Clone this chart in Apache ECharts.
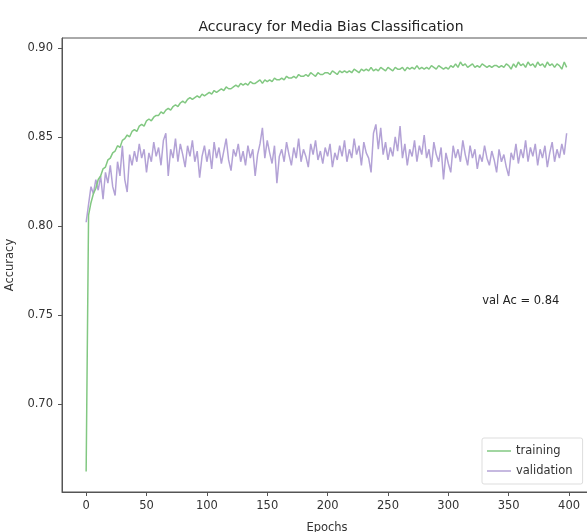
<!DOCTYPE html>
<html>
<head>
<meta charset="utf-8">
<script src="https://cdn.jsdelivr.net/npm/echarts@6/dist/echarts.min.js"></script>
<style>
  html, body { margin: 0; padding: 0; background: #fff; }
  #chart { width: 587px; height: 532px; }
</style>
</head>
<body>
<div id="chart"></div>
<script>
const trainAcc = [
  0.662, 0.806, 0.813, 0.818, 0.821, 0.826, 0.828, 0.832, 0.833, 0.837,
  0.838, 0.841, 0.842, 0.845, 0.844, 0.848, 0.849, 0.851, 0.850, 0.853,
  0.854, 0.853, 0.856, 0.857, 0.856, 0.859, 0.860, 0.859, 0.861, 0.862,
  0.862, 0.864, 0.863, 0.865, 0.866, 0.865, 0.867, 0.868, 0.867, 0.869,
  0.870, 0.869, 0.871, 0.872, 0.871, 0.872, 0.873, 0.872, 0.874, 0.873,
  0.874, 0.875, 0.874, 0.876, 0.875, 0.876, 0.877, 0.876, 0.878, 0.877,
  0.877, 0.878, 0.879, 0.878, 0.880, 0.879, 0.880, 0.879, 0.881, 0.880,
  0.880, 0.881, 0.882, 0.880, 0.882, 0.881, 0.882, 0.881, 0.883, 0.882,
  0.882, 0.883, 0.882, 0.884, 0.883, 0.883, 0.884, 0.883, 0.885, 0.884,
  0.884, 0.885, 0.884, 0.886, 0.885, 0.884, 0.886, 0.885, 0.885, 0.886,
  0.886, 0.885, 0.887, 0.886, 0.885, 0.887, 0.886, 0.887, 0.886, 0.887,
  0.886, 0.888, 0.887, 0.886, 0.888, 0.887, 0.888, 0.887, 0.889, 0.887,
  0.888, 0.887, 0.889, 0.888, 0.887, 0.889, 0.888, 0.887, 0.889, 0.888,
  0.888, 0.889, 0.887, 0.889, 0.888, 0.889, 0.888, 0.890, 0.888, 0.889,
  0.888, 0.889, 0.888, 0.890, 0.889, 0.888, 0.890, 0.889, 0.888, 0.889,
  0.888, 0.890, 0.889, 0.891, 0.889, 0.892, 0.890, 0.891, 0.889, 0.890,
  0.891, 0.889, 0.890, 0.889, 0.891, 0.890, 0.889, 0.890, 0.889, 0.890,
  0.890, 0.889, 0.890, 0.889, 0.891, 0.890, 0.888, 0.891, 0.889, 0.892,
  0.890, 0.891, 0.889, 0.892, 0.890, 0.891, 0.889, 0.892, 0.890, 0.891,
  0.889, 0.892, 0.890, 0.891, 0.889, 0.891, 0.890, 0.888, 0.892, 0.889
]
const valAcc = [
  0.802, 0.812, 0.822, 0.818, 0.826, 0.820, 0.828, 0.815, 0.830, 0.824,
  0.834, 0.822, 0.817, 0.836, 0.828, 0.845, 0.826, 0.819, 0.840, 0.834,
  0.842, 0.836, 0.846, 0.838, 0.843, 0.830, 0.841, 0.836, 0.847, 0.839,
  0.844, 0.834, 0.848, 0.852, 0.828, 0.843, 0.838, 0.849, 0.836, 0.846,
  0.840, 0.833, 0.845, 0.839, 0.848, 0.836, 0.842, 0.827, 0.839, 0.845,
  0.836, 0.843, 0.832, 0.847, 0.838, 0.844, 0.835, 0.842, 0.849, 0.837,
  0.831, 0.843, 0.839, 0.846, 0.836, 0.842, 0.834, 0.845, 0.838, 0.843,
  0.828, 0.840, 0.846, 0.855, 0.838, 0.848, 0.841, 0.835, 0.845, 0.824,
  0.839, 0.843, 0.836, 0.847, 0.840, 0.834, 0.844, 0.838, 0.849, 0.836,
  0.843, 0.839, 0.833, 0.846, 0.840, 0.848, 0.837, 0.842, 0.835, 0.844,
  0.839, 0.846, 0.833, 0.841, 0.837, 0.845, 0.839, 0.848, 0.836, 0.843,
  0.838, 0.849, 0.840, 0.845, 0.834, 0.847, 0.841, 0.838, 0.830, 0.852,
  0.857, 0.843, 0.855, 0.840, 0.847, 0.837, 0.844, 0.839, 0.850, 0.842,
  0.856, 0.838, 0.846, 0.834, 0.843, 0.839, 0.848, 0.836, 0.845, 0.840,
  0.851, 0.838, 0.843, 0.833, 0.847, 0.840, 0.836, 0.844, 0.826, 0.841,
  0.835, 0.830, 0.845, 0.838, 0.843, 0.836, 0.848, 0.840, 0.834, 0.845,
  0.838, 0.843, 0.832, 0.840, 0.836, 0.845, 0.838, 0.834, 0.842, 0.837,
  0.830, 0.843, 0.836, 0.840, 0.833, 0.828, 0.841, 0.837, 0.846, 0.835,
  0.843, 0.838, 0.848, 0.836, 0.844, 0.839, 0.846, 0.834, 0.843, 0.838,
  0.845, 0.833, 0.841, 0.847, 0.836, 0.843, 0.838, 0.846, 0.840, 0.852
]
const epochStep = 2
const xTicks = [0, 50, 100, 150, 200, 250, 300, 350, 400]
const yTicks = [0.70, 0.75, 0.80, 0.85, 0.90]
const noteText = 'val Ac = 0.84'
const notePos = [328, 0.7575]

const font = 'DejaVu Sans'
const trainColor = '#82c882'
const valColor = '#b3a2d6'

const pairs = (arr) => arr.map((v, i) => [i * epochStep, v])

const chart = echarts.init(document.getElementById('chart'), null, { renderer: 'canvas' })

const option = {
  animation: false,
  backgroundColor: '#fff',
  textStyle: { fontFamily: font },
  title: {
    text: 'Accuracy for Media Bias Classification',
    left: 326,
    top: 15,
    textAlign: 'center',
    textStyle: { fontFamily: font, fontSize: 14, fontWeight: 'normal', color: '#222' }
  },
  grid: {
    left: 62,
    right: -5,
    top: 38,
    bottom: 40,
    outerBoundsMode: 'none',
    show: true,
    borderColor: '#555',
    borderWidth: 1,
    backgroundColor: 'transparent'
  },
  legend: {
    orient: 'vertical',
    left: 482,
    top: 438,
    padding: [7, 10, 7, 5],
    icon: 'rect',
    itemWidth: 24,
    itemHeight: 1.5,
    itemGap: 8,
    borderColor: '#ddd',
    borderWidth: 1,
    borderRadius: 2,
    textStyle: { fontFamily: font, fontSize: 11.5, color: '#333' },
    data: ['training', 'validation']
  },
  xAxis: {
    type: 'value',
    min: -20,
    max: 419,
    name: 'Epochs',
    nameLocation: 'middle',
    nameGap: 30,
    nameTextStyle: { fontFamily: font, fontSize: 11.5, color: '#333' },
    splitLine: { show: false },
    axisLine: { onZero: false, lineStyle: { color: '#555' } },
    axisTick: { length: 4, customValues: xTicks, lineStyle: { color: '#555' } },
    axisLabel: {
      margin: 8,
      fontFamily: font,
      fontSize: 11.5,
      color: '#333',
      customValues: xTicks,
      formatter: (v) => String(v)
    }
  },
  yAxis: {
    type: 'value',
    min: 0.6505,
    max: 0.9055,
    name: 'Accuracy',
    nameLocation: 'middle',
    nameGap: 44,
    nameTextStyle: { fontFamily: font, fontSize: 11.5, color: '#333' },
    splitLine: { show: false },
    axisLine: { show: true, onZero: false, lineStyle: { color: '#555' } },
    axisTick: { show: true, length: 4, customValues: yTicks, lineStyle: { color: '#555' } },
    axisLabel: {
      margin: 9,
      fontFamily: font,
      fontSize: 11.5,
      color: '#333',
      customValues: yTicks,
      formatter: (v) => v.toFixed(2)
    }
  },
  series: [
    {
      name: 'training',
      type: 'line',
      data: pairs(trainAcc),
      symbol: 'none',
      color: trainColor,
      lineStyle: { color: trainColor, width: 1.5 },
      z: 3
    },
    {
      name: 'validation',
      type: 'line',
      data: pairs(valAcc),
      symbol: 'none',
      color: valColor,
      lineStyle: { color: valColor, width: 1.5 },
      z: 2
    }
  ]
}

chart.setOption(option)

// annotation text placed at data coordinates
const p = chart.convertToPixel({ xAxisIndex: 0, yAxisIndex: 0 }, notePos)
chart.setOption({
  graphic: [{
    type: 'text',
    x: p[0],
    y: p[1],
    style: {
      text: noteText,
      fontFamily: font,
      fontSize: 11.5,
      fill: '#222',
      verticalAlign: 'middle'
    }
  }]
})
</script>
</body>
</html>
